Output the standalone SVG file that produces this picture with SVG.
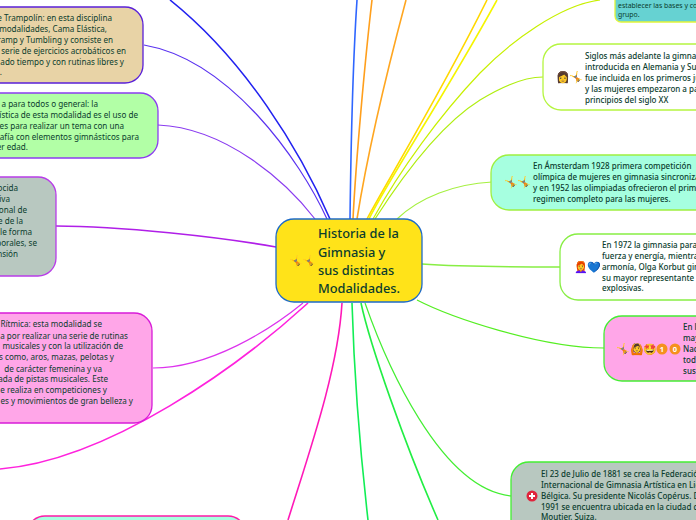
<svg xmlns="http://www.w3.org/2000/svg" width="696" height="520" viewBox="0 0 696 520">
<style>
text{font-family:"Noto Sans","Open Sans",sans-serif;font-size:8.1px;fill:#0b3d2e}
.l text{text-anchor:end}
.t{font-size:12.8px;font-weight:500}
.m{font-size:8px;font-weight:500}
.n{stroke-width:1.3}
path.c{fill:none;stroke-width:1.2}
path.h{stroke-width:1.6}
.e{font-size:11px;text-anchor:middle}
.d{font-size:7.5px;font-weight:700;fill:#fff;text-anchor:middle}
</style>
<rect width="696" height="520" fill="#fff"/>
<g id="connectors">
<path class="c h" d="M350 219C351 140 353 60 357 0" stroke="#2f66ff"/>
<path class="c h" d="M353 219C356 160 365 60 372 0" stroke="#ff9f1c"/>
<path class="c h" d="M357 219C368 150 390 60 406 0" stroke="#ffa620"/>
<path class="c h" d="M367 219C382 190 440 95 487 0" stroke="#ffd800"/>
<path class="c h" d="M369 219C385 185 445 95 497 0" stroke="#f5f500"/>
<path class="c" d="M373 219C400 170 440 115 480 73C510 42 560 5 600 0" stroke="#c8f000"/>
<path class="c" d="M375 219C400 180 440 125 480 100C503 86 525 77 543 77" stroke="#b0ee10"/>
<path class="c" d="M397 219C420 197 455 184 492 182" stroke="#a5f040"/>
<path class="c h" d="M422 264C450 266 500 267 560 267" stroke="#88ee44"/>
<path class="c" d="M417 300C450 317 540 348 604 348" stroke="#55ee22"/>
<path class="c" d="M365 303C385 360 440 490 512 496" stroke="#44ee33"/>
<path class="c h" d="M361 303C370 345 405 445 438 520" stroke="#22ee44"/>
<path class="c h" d="M352 303C354 370 360 450 368 520" stroke="#11ee55"/>
<path class="c h" d="M342 303C338 370 310 450 288 520" stroke="#ff19b8"/>
<path class="c h" d="M308 303C240 365 110 460 0 469" stroke="#ff22dd"/>
<path class="c" d="M303 303C270 330 210 368 153 368" stroke="#dd33ee"/>
<path class="c h" d="M276 247C220 237 120 226 56 226" stroke="#b01fe8"/>
<path class="c" d="M315 219C285 180 225 128 158 125" stroke="#8a3cf0"/>
<path class="c" d="M327 219C300 160 230 60 144 45" stroke="#5a32f0"/>
<path class="c h" d="M330 219C300 150 245 60 170 0" stroke="#2222f0"/>
</g>
<g id="n-trampolin" class="l">
<rect class="n" x="-50" y="7" width="193" height="76" rx="18" fill="#e8d3a6" stroke="#5a20d8"/>
<text x="112" y="21">e Trampolín: en esta disciplina</text>
<text x="107" y="32">modalidades, Cama Elástica,</text>
<text x="113" y="43">ramp y Tumbling y consiste en</text>
<text x="126" y="54">serie de ejercicios acrobáticos en</text>
<text x="124" y="65">ado tiempo y con rutinas libres y</text>
<text x="2" y="75">.</text>
</g>
<g id="n-general" class="l">
<rect class="n" x="-50" y="93" width="208" height="65" rx="18" fill="#b2ffa6" stroke="#8c3cf0"/>
<text x="98" y="107">a para todos o general: la</text>
<text x="138" y="118">rística de esta modalidad es el uso de</text>
<text x="124" y="129">es para realizar un tema con una</text>
<text x="139" y="140">afía con elementos gimnásticos para</text>
<text x="28" y="150">er edad.</text>
</g>
<g id="n-acro" class="l">
<rect class="n" x="-50" y="177" width="106" height="99" rx="18" fill="#b8c8c0" stroke="#b83ce8"/>
<text x="18" y="191">ocida</text>
<text x="10" y="202">iva</text>
<text x="27" y="213">onal de</text>
<text x="23" y="224">e de la</text>
<text x="32" y="235">le forma</text>
<text x="37" y="246">porales, se</text>
<text x="18" y="257">nsión</text>
</g>
<g id="n-ritmica" class="l">
<rect class="n" x="-50" y="313" width="202" height="110" rx="18" fill="#ffa6e8" stroke="#d81cd8"/>
<text x="102" y="327">Rítmica: esta modalidad se</text>
<text x="128" y="339">a por realizar una serie de rutinas</text>
<text x="123" y="349">musicales y con la utilización de</text>
<text x="114" y="360">s como, aros, mazas, pelotas y</text>
<text x="102" y="372">de carácter femenina y va</text>
<text x="108" y="382">ada de pistas musicales. Este</text>
<text x="107" y="393">e realiza en competiciones y</text>
<text x="133" y="404">es y movimientos de gran belleza y</text>
</g>
<g id="n-bottom">
<rect class="n" x="27" y="516" width="219" height="40" rx="18" fill="#a6ffe0" stroke="#ff19a8"/>
</g>
<g id="n-root">
<rect x="276" y="219" width="146" height="83" rx="18" fill="#ffe319" stroke="#1e6bc8" stroke-width="1.3"/>
<text class="e" x="296" y="265">🤸</text><text class="e" x="309" y="265">🤸</text>
<text class="t" x="318" y="238">Historia de la</text>
<text class="t" x="318" y="257">Gimnasia y</text>
<text class="t" x="318" y="275">sus distintas</text>
<text class="t" x="318" y="293">Modalidades.</text>
</g>
<g id="n-teal">
<rect class="n" x="615" y="-30" width="120" height="52" rx="6" fill="#66d2d2" stroke="#e4f53a"/>
<text style="font-size:6.9px" x="618" y="8">establecer las bases y conjunt</text>
<text style="font-size:6.9px" x="618" y="17">grupo.</text>
</g>
<g id="n-siglos">
<rect class="n" x="543" y="44" width="190" height="66" rx="18" fill="#fff" stroke="#b5f540"/>
<text class="e" x="563" y="81">👩</text><text class="e" x="576" y="81">🤸</text>
<text class="m" x="585" y="59">Siglos más adelante la gimnas</text>
<text class="m" x="585" y="70">introducida en Alemania y Sue</text>
<text class="m" x="585" y="81">fue incluida en los primeros ju</text>
<text class="m" x="585" y="92">y las mujeres empezaron a pa</text>
<text class="m" x="585" y="103">principios del siglo XX</text>
</g>
<g id="n-1928">
<rect class="n" x="491" y="155" width="241" height="55" rx="18" fill="#a6ffe0" stroke="#9ef040"/>
<text class="e" x="511" y="186">🤸</text><text class="e" x="524" y="186">🤸</text>
<text class="m" x="533" y="169">En Ámsterdam 1928 primera competición</text>
<text class="m" x="533" y="180">olímpica de mujeres en gimnasia sincroniza</text>
<text class="m" x="533" y="191">y en 1952 las olimpiadas ofrecieron el prime</text>
<text class="m" x="533" y="202">regimen completo para las mujeres.</text>
</g>
<g id="n-1972">
<rect class="n" x="560" y="234" width="190" height="66" rx="18" fill="#fff" stroke="#88ee44"/>
<text class="e" x="581" y="271">👩‍🦰</text><text class="e" x="594" y="271">💙</text>
<text class="m" x="602" y="248">En 1972 la gimnasia para</text>
<text class="m" x="602" y="259">fuerza y energía, mientra</text>
<text class="m" x="602" y="270">armonía, Olga Korbut gim</text>
<text class="m" x="602" y="281">su mayor representante</text>
<text class="m" x="602" y="291">explosivas.</text>
</g>
<g id="n-nadia">
<rect class="n" x="604" y="316" width="150" height="65" rx="18" fill="#ffa6e8" stroke="#44ee33"/>
<text class="e" x="623" y="353">🤸</text><text class="e" x="637" y="353">🙆</text><text class="e" x="650" y="353">🤩</text>
<circle cx="662" cy="349" r="5.5" fill="#f5911e"/><text class="d" x="662" y="352">1</text>
<circle cx="675" cy="349" r="5.5" fill="#f5911e"/><text class="d" x="675" y="352">0</text>
<text class="m" x="683" y="330">En l</text>
<text class="m" x="683" y="341">may</text>
<text class="m" x="683" y="352">Nac</text>
<text class="m" x="683" y="363">tod</text>
<text class="m" x="683" y="374">sus</text>
</g>
<g id="n-1881">
<rect class="n" x="511" y="462" width="240" height="78" rx="18" fill="#b8c8c0" stroke="#44ee33"/>
<circle cx="532" cy="496" r="5.5" fill="#e0243c"/>
<path d="M532 493v6M529 496h6" stroke="#fff" stroke-width="2" fill="none"/>
<text class="m" x="541" y="477">El 23 de Julio de 1881 se crea la Federació</text>
<text class="m" x="541" y="488">Internacional de Gimnasia Artística en Lie</text>
<text class="m" x="541" y="499">Bélgica. Su presidente Nicolás Copérus. D</text>
<text class="m" x="541" y="510">1991 se encuentra ubicada en la ciudad d</text>
<text class="m" x="541" y="520">Moutier, Suiza.</text>
</g>
</svg>
